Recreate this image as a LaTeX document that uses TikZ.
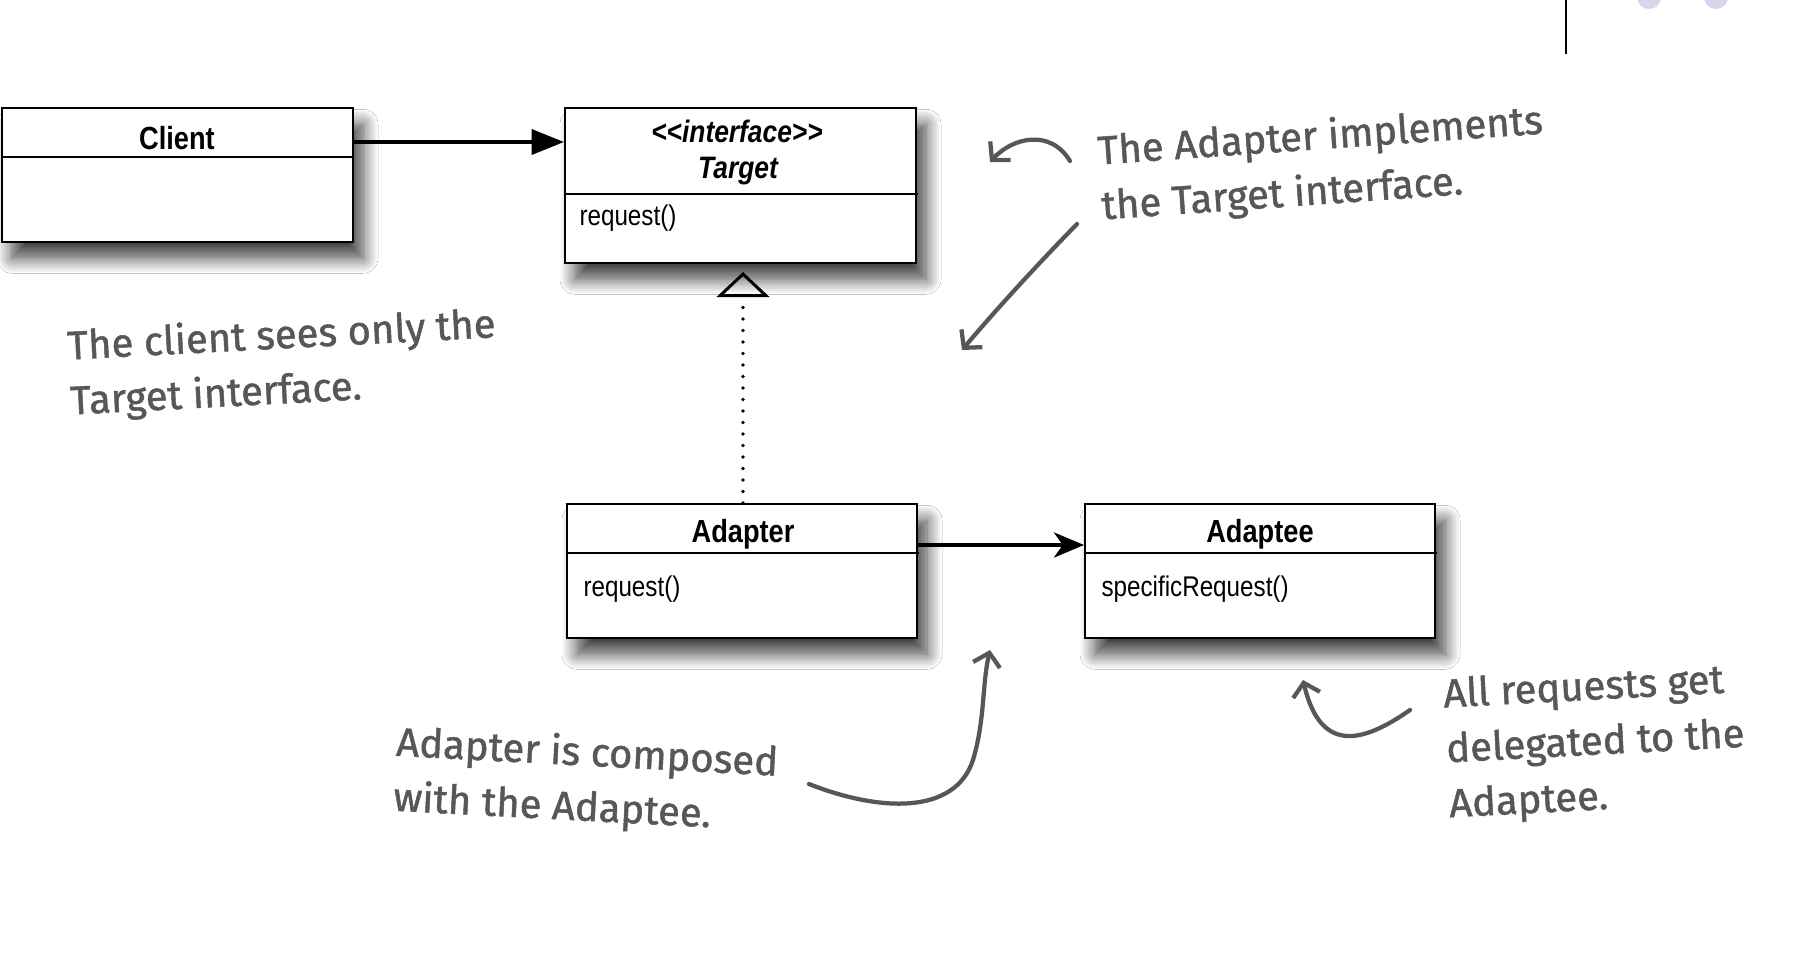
\documentclass[tikz,border=0pt]{standalone}
\usepackage{fontspec}
\setmainfont{Liberation Sans}
\newfontfamily\umlfont[FakeStretch=0.85]{Liberation Sans}
\newfontfamily\handfont[FakeBold=1.2]{Fira Sans}
\usetikzlibrary{arrows.meta,shadows.blur}
\definecolor{hand}{HTML}{575757}
\definecolor{dotc}{HTML}{D6D6EA}
\begin{document}
\begin{tikzpicture}[x=0.4pt,y=-0.4pt,
  umlbox/.style={draw=black, line width=0.8pt, fill=white, anchor=north west, inner sep=0pt,
    blur shadow={shadow xshift=4pt,shadow yshift=-6.5pt,shadow blur radius=6pt,shadow blur steps=12,shadow opacity=75}},
  titletext/.style={font=\umlfont\bfseries\fontsize{12.8}{14}\selectfont, inner sep=0pt},
  ititle/.style={font=\umlfont\bfseries\itshape\fontsize{12.4}{14}\selectfont, inner sep=0pt},
  member/.style={font=\umlfont\fontsize{11.4}{13}\selectfont, anchor=west, inner sep=0pt},
  divider/.style={line width=0.7pt},
  assoc/.style={line width=1.6pt},
  note/.style={font=\handfont\fontsize{16}{22}\selectfont, text=hand, align=left, anchor=north west, inner sep=0pt},
  handarrow/.style={draw=hand, line width=1.7pt, line cap=round, line join=round,
    -{Straight Barb[length=5pt,width=11pt,line width=1.7pt]}},
]
\clip (0,0) rectangle (1800,960);
\fill[white] (0,0) rectangle (1800,960);
\useasboundingbox (0,0) rectangle (1800,960);

% decoration top right
\draw[line width=0.8pt] (1566,0) -- (1566,54);
\fill[dotc] (1649,-3) circle[radius=12];
\fill[dotc] (1716,-3) circle[radius=12];

% boxes
\node[umlbox, minimum width=140.4pt, minimum height=53.6pt] (client) at (1,107) {};
\node[umlbox, minimum width=140.4pt, minimum height=62pt] (target) at (564,107) {};
\node[umlbox, minimum width=140pt, minimum height=53.6pt] (adapter) at (566,503) {};
\node[umlbox, minimum width=140pt, minimum height=53.6pt] (adaptee) at (1084,503) {};

% dividers
\draw[divider] (1,157) -- (354,157);
\draw[divider] (564,194) -- (918,194);
\draw[divider] (566,553) -- (919,553);
\draw[divider] (1084,553) -- (1437,553);

% texts
\node[titletext] (clientname) at (177,138) {Client};
\node[ititle] (stereo) at (737,131) {<<interface>>};
\node[ititle] (targetname) at (738,171) {Target};
\node[member] (treq) at (579,218) {request()};
\node[titletext] (adaptername) at (743,534) {Adapter};
\node[member] (areq) at (583,589) {request()};
\node[titletext] (adapteename) at (1260,534) {Adaptee};
\node[member] (sreq) at (1101,589) {specificRequest()};

% connectors
\coordinate (c1) at (0,142);
\coordinate (c2) at (0,545);
\draw[assoc, -{Triangle[length=13pt,width=10pt]}] (client.east |- c1) -- (target.west |- c1);
\draw[assoc, -{Stealth[length=12pt,width=10pt,inset=3.5pt]}] (adapter.east |- c2) -- (adaptee.west |- c2);
\coordinate (real) at (743,262);
\draw[line width=1.5pt, line cap=round, dash pattern=on 0pt off 4.6pt, shorten >=4pt,
  -{Triangle[open,length=10pt,width=21pt,line width=1.2pt]}] (adapter.north -| real) -- (real);

% handwritten notes
\node[note, rotate=3] (n1) at (66,328) {The client sees only the\\Target interface.};
\node[note, rotate=4] (n2) at (1096,133) {The Adapter implements\\the Target interface.};
\node[note, rotate=-3] (n3) at (397,724) {Adapter is composed\\with the Adaptee.};
\node[note, rotate=3] (n4) at (1442,677) {All requests get\\delegated to the\\Adaptee.};

% handwritten arrows
\coordinate (a1s) at (1070,161);
\coordinate (a1e) at (990,162);
\draw[handarrow] (a1s) .. controls (1050,128) and (1012,138) .. (a1e);
\coordinate (a2s) at (1077,224);
\coordinate (a2e) at (962,350);
\draw[handarrow] (a2s) .. controls (1040,262) and (1000,305) .. (a2e);
\coordinate (a3s) at (809,784);
\coordinate (a3e) at (990,650);
\draw[handarrow] (a3s) .. controls (880,812) and (955,815) .. (973,760) .. controls (985,720) and (982,685) .. (a3e);
\coordinate (a4s) at (1410,710);
\coordinate (a4e) at (1303,680);
\draw[handarrow] (a4s) .. controls (1360,745) and (1320,752) .. (a4e);
\end{tikzpicture}
\end{document}
